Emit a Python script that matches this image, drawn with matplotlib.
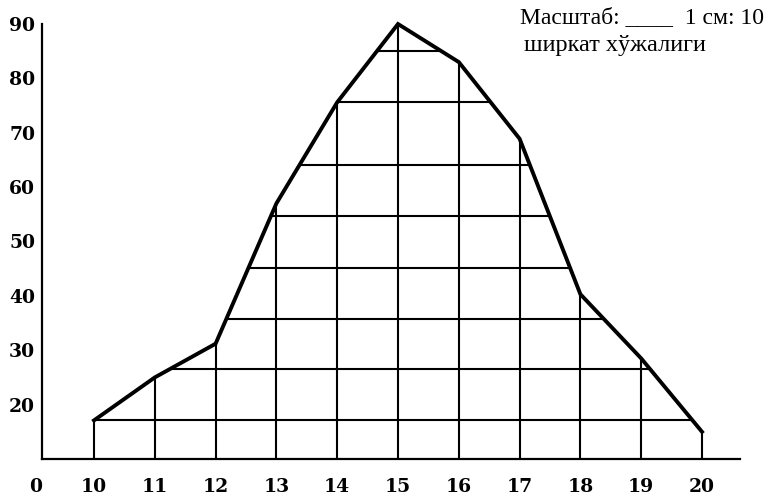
import numpy as np
import matplotlib
matplotlib.use("Agg")
import matplotlib.pyplot as plt
from matplotlib.transforms import blended_transform_factory

# data
x_vals = [10, 11, 12, 13, 14, 15, 16, 17, 18, 19, 20]
y_vals = [17.1, 25, 31.2, 57, 75.6, 90, 83, 68.9, 40.3, 28.5, 15]
grid_levels = [17.1, 26.6, 35.8, 45.1, 54.6, 64.1, 75.6, 85.1]
y_ticks = [20, 30, 40, 50, 60, 70, 80, 90]
x_origin_label = "0"
scale_line1 = "Масштаб: ____  1 см: 10"
scale_line2 = "ширкат хўжалиги"

fig = plt.figure(figsize=(7.8, 4.97), dpi=100)
ax = fig.add_axes([42 / 780, 38 / 497, 698 / 780, 435 / 497])

x0, x1 = 9.145, 20.625
ax.set_xlim(x0, x1)
ax.set_ylim(10, 89.5)

xs = np.array(x_vals, dtype=float)
ys = np.array(y_vals, dtype=float)
peak = int(np.argmax(ys))

# vertical lines from the base up to the curve
for xv, yv in zip(xs, ys):
    ax.plot([xv, xv], [10, yv], color="black", lw=1.5, solid_capstyle="butt")

# horizontal lines between the two sides of the curve
for lv in grid_levels:
    left = np.interp(lv, ys[:peak + 1], xs[:peak + 1])
    right = np.interp(lv, ys[peak:][::-1], xs[peak:][::-1])
    ax.plot([left, right], [lv, lv], color="black", lw=1.5, solid_capstyle="butt")

ax.plot(xs, ys, color="black", lw=2.8, solid_joinstyle="miter", clip_on=False)

for s in ["top", "right"]:
    ax.spines[s].set_visible(False)
for s in ["left", "bottom"]:
    ax.spines[s].set_linewidth(1.6)

ax.set_yticks(y_ticks)
ax.set_yticklabels([str(t) for t in y_ticks])
ax.set_xticks(x_vals)
ax.set_xticklabels([str(v) for v in x_vals])
ax.set_xlim(x0, x1)
ax.tick_params(axis="both", length=0)
ax.tick_params(axis="y", pad=5)
ax.tick_params(axis="x", pad=13.5)
for lab in ax.get_xticklabels() + ax.get_yticklabels():
    lab.set_fontfamily("DejaVu Serif")
    lab.set_fontweight("bold")
    lab.set_fontsize(13.5)

# the origin label sits left of the axis corner
trans = blended_transform_factory(ax.transData, fig.transFigure)
ax.text(9.046, 1 - 487 / 497, x_origin_label, transform=trans, ha="center",
        va="center", family="DejaVu Serif", fontweight="bold", fontsize=13.5,
        clip_on=False)

fig.text(520 / 780, 1 - 18 / 497, scale_line1, family="Liberation Serif",
         fontsize=17, ha="left", va="center")
fig.text(524 / 780, 1 - 46 / 497, scale_line2, family="Liberation Serif",
         fontsize=17.5, ha="left", va="center")

fig.savefig("out.png", dpi=100)
